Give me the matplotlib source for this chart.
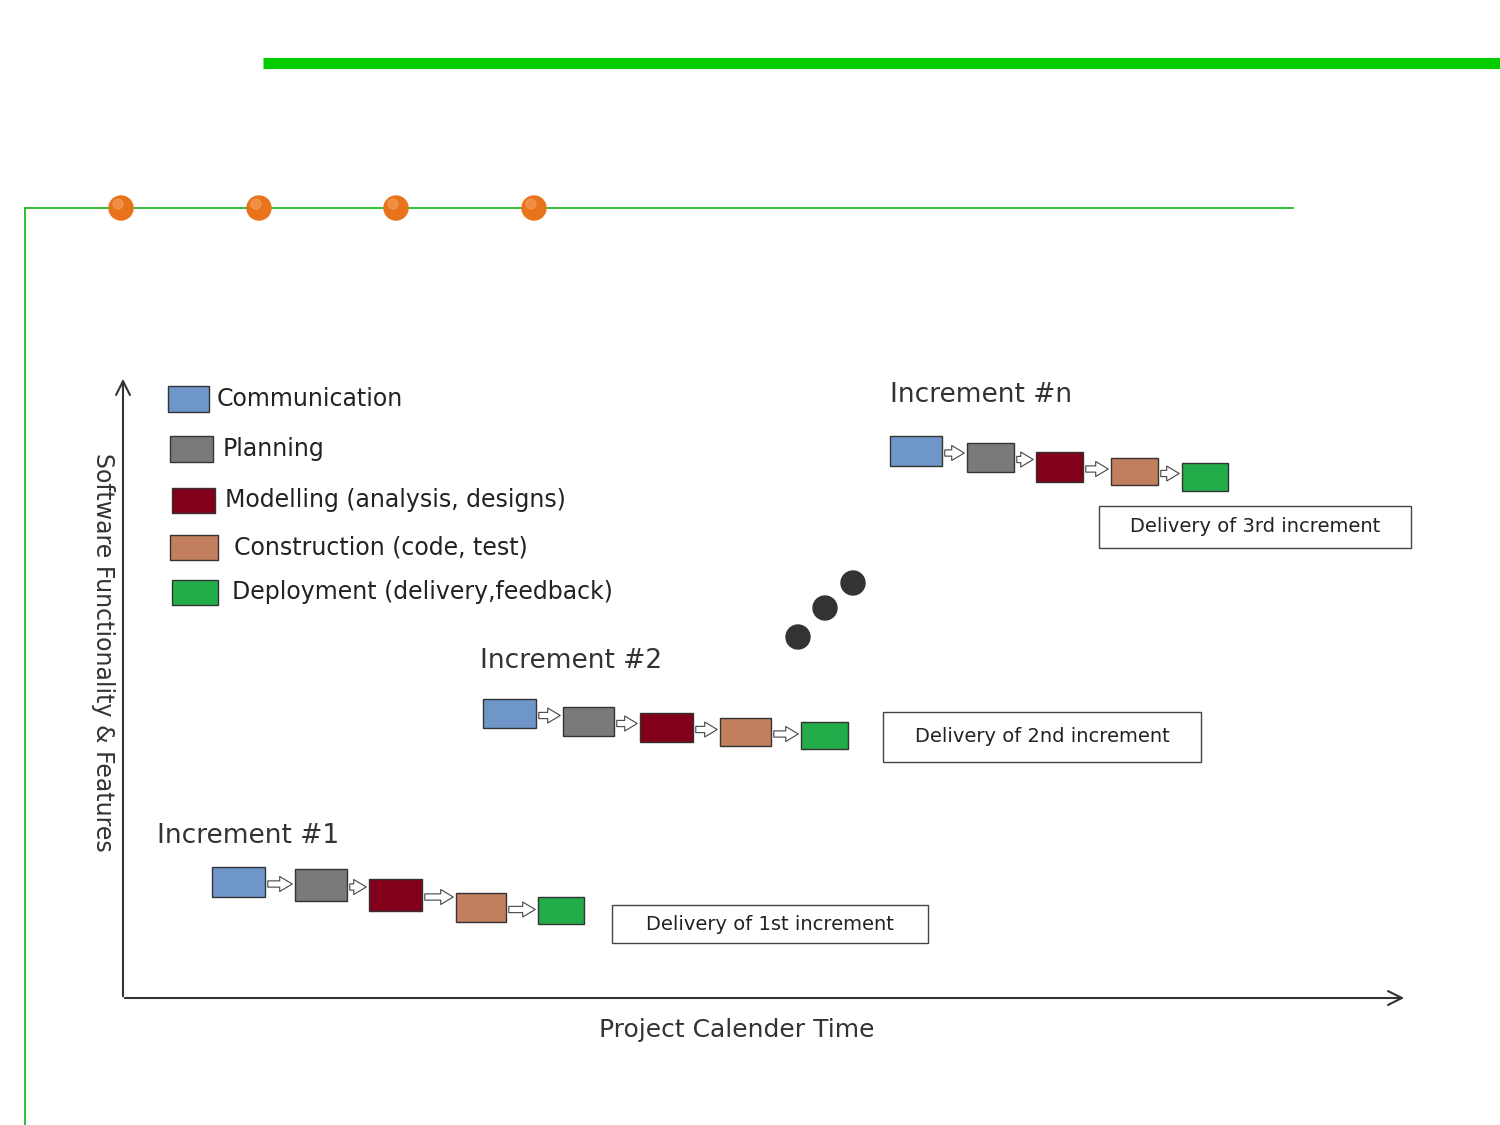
import matplotlib.pyplot as plt
from matplotlib.patches import Rectangle, Circle

# phase colours and legend
phases = ['Communication', 'Planning', 'Modelling (analysis, designs)',
          'Construction (code, test)', 'Deployment (delivery,feedback)']
colors = ['#6f96c8', '#7a7a7a', '#82001a', '#c17f5e', '#22ad4a']
leg_boxes = [(168, 386, 41, 26), (170, 436, 43, 26), (172, 488, 43, 25),
             (170, 535, 48, 25), (172, 580, 46, 25)]
leg_text_x = [217, 223, 225, 234, 232]

# increments: box (x0, y0, x1, y1) per phase
increments = {
    'Increment #1': [(212, 867, 265, 897), (295, 869, 347, 901), (369, 879, 422, 911),
                     (456, 893, 506, 922), (538, 897, 584, 924)],
    'Increment #2': [(483, 699, 536, 728), (563, 707, 614, 736), (640, 713, 693, 742),
                     (720, 718, 771, 746), (801, 722, 848, 749)],
    'Increment #n': [(890, 436, 942, 466), (967, 443, 1014, 472), (1036, 452, 1083, 482),
                     (1111, 458, 1158, 485), (1182, 463, 1228, 491)],
}
inc_label_pos = {'Increment #1': (157, 836), 'Increment #2': (480, 661), 'Increment #n': (890, 395)}

deliveries = ['Delivery of 1st increment', 'Delivery of 2nd increment', 'Delivery of 3rd increment']
delivery_boxes = [(612, 905, 928, 943), (883, 712, 1201, 762), (1099, 506, 1411, 548)]

fig = plt.figure(figsize=(15, 11.25), dpi=100)
ax = fig.add_axes([0, 0, 1, 1])
ax.set_xlim(0, 1500)
ax.set_ylim(1125, 0)
ax.axis('off')

# decorative slide lines
ax.plot([263, 1500], [63, 63], color='#00cc00', lw=8, solid_capstyle='butt')
ax.plot([25, 1293], [208, 208], color='#22bb22', lw=1.3)
ax.plot([25, 25], [208, 1125], color='#22bb22', lw=1.3)
for x in [121, 259, 396, 534]:
    ax.add_patch(Circle((x, 208), 12, color='#e8731a', zorder=3))
    ax.add_patch(Circle((x - 3, 204), 5, color='#f5a060', zorder=4, alpha=0.6))

# axes arrows
ax.annotate('', xy=(1407, 998), xytext=(122, 998),
            arrowprops=dict(arrowstyle='->', color='#333', lw=1.5, mutation_scale=25))
ax.annotate('', xy=(123, 376), xytext=(123, 999),
            arrowprops=dict(arrowstyle='->', color='#333', lw=1.5, mutation_scale=25))
ax.text(737, 1030, 'Project Calender Time', fontsize=18, ha='center', va='center', color='#333')
ax.text(103, 652, 'Software Functionality & Features', fontsize=17, ha='center', va='center',
        rotation=-90, color='#333')

# legend
for (x, y, w, h), c, t, tx in zip(leg_boxes, colors, phases, leg_text_x):
    ax.add_patch(Rectangle((x, y), w, h, fc=c, ec='#333', lw=1))
    ax.text(tx, y + h / 2, t, fontsize=17, va='center', color='#222')

# increments
for name, boxes in increments.items():
    lx, ly = inc_label_pos[name]
    ax.text(lx, ly, name, fontsize=19, va='center', color='#333')
    for i, ((x0, y0, x1, y1), c) in enumerate(zip(boxes, colors)):
        ax.add_patch(Rectangle((x0, y0), x1 - x0, y1 - y0, fc=c, ec='#333', lw=1))
        if i < len(boxes) - 1:
            nx0, ny0, nx1, ny1 = boxes[i + 1]
            ym = (y0 + y1) / 2 + 2
            ax.annotate('', xy=(nx0, ym), xytext=(x1, ym),
                        arrowprops=dict(arrowstyle='simple,head_width=0.6,tail_width=0.25',
                                        fc='white', ec='#444', lw=0.8, mutation_scale=18))

# dots
for x, y in [(798, 637), (825, 608), (853, 583)]:
    ax.add_patch(Circle((x, y), 12, color='#333'))

# delivery boxes
for t, (x0, y0, x1, y1) in zip(deliveries, delivery_boxes):
    ax.add_patch(Rectangle((x0, y0), x1 - x0, y1 - y0, fc='white', ec='#444', lw=1))
    ax.text((x0 + x1) / 2, (y0 + y1) / 2, t, fontsize=14, ha='center', va='center', color='#222')

fig.savefig('out.png', dpi=100)
